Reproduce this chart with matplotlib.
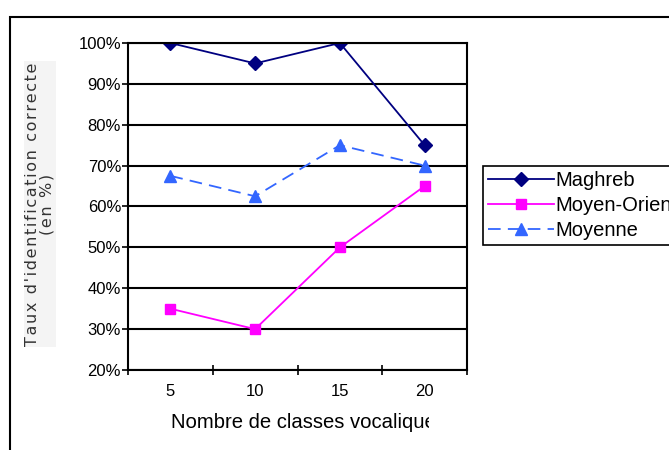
import matplotlib
matplotlib.use("Agg")
from matplotlib import pyplot as plt
from matplotlib.patches import Rectangle
from matplotlib.transforms import Bbox

# data
classes = ["5", "10", "15", "20"]
maghreb = [100, 95, 100, 75]
moyen_orient = [35, 30, 50, 65]
moyenne = [67.5, 62.5, 75, 70]
yticks = [20, 30, 40, 50, 60, 70, 80, 90, 100]

W, H = 669, 450
plt.rcParams['font.family'] = ['Liberation Sans', 'DejaVu Sans']

fig = plt.figure(figsize=(W / 100, H / 100), dpi=100)
ax = fig.add_axes([128 / W, 1 - 370 / H, (467 - 128) / W, (370 - 43) / H])

# outer chart border (cut off right and bottom)
fig.patches.append(Rectangle((10 / W, -0.1), 1.2, 1 - 17 / H + 0.1, transform=fig.transFigure,
                             fill=False, edgecolor='black', linewidth=1.5))

x = range(len(classes))
ax.plot(x, maghreb, color='#000080', marker='D', markersize=7, linewidth=1.3, label='Maghreb')
ax.plot(x, moyen_orient, color='#FF00FF', marker='s', markersize=7, linewidth=1.3, label='Moyen-Orient')
ax.plot(x, moyenne, color='#3366FF', marker='^', markersize=8.5, linewidth=1.3,
        linestyle=(0, (7, 4)), label='Moyenne')

ax.set_xlim(-0.5, 3.5)
ax.set_ylim(20, 100)
ax.set_yticks(yticks)
ax.set_yticklabels(["%d%%" % v for v in yticks], fontsize=12)
for v in yticks:
    ax.axhline(v, color='black', linewidth=1.5, zorder=0)

ax.set_xticks([-0.5, 0.5, 1.5, 2.5, 3.5])
ax.set_xticklabels([])
ax.set_xticks(list(x), minor=True)
ax.set_xticklabels(classes, minor=True, fontsize=12)
ax.tick_params(axis='x', which='major', direction='inout', length=7, width=1.2)
ax.tick_params(axis='x', which='minor', length=0, pad=10)
ax.tick_params(axis='y', direction='out', length=4, width=1.2, pad=1)
for s in ax.spines.values():
    s.set_linewidth(1.5)

# x title, cut off on the right like in the original
xl = fig.text(171 / W, 1 - 423 / H, "Nombre de classes vocaliques", ha='left', va='center',
              fontsize=14.6)
xl.set_clip_box(Bbox([[0, 0], [429, H]]))
xl.set_clip_on(True)

hair = "\u200a"
yl1 = hair.join("Taux d'identification correcte")
yl2 = hair.join("(en %)")
fig.text(40 / W, 1 - 204 / H, yl1 + "\n" + yl2, rotation=90, ha='center', va='center',
         fontsize=11.5, family=['DejaVu Sans'], color='#333333', linespacing=1.0,
         bbox=dict(facecolor='#f4f4f4', edgecolor='none', pad=1))

leg = ax.legend(loc='upper left', bbox_to_anchor=(483 / W, 1 - 166 / H),
                bbox_transform=fig.transFigure, borderaxespad=0, fancybox=False,
                edgecolor='black', framealpha=1, fontsize=14.5, handlelength=3.3,
                handletextpad=0.05, labelspacing=0.3, borderpad=0.25)
leg.get_frame().set_linewidth(1.2)

fig.savefig("out.png", dpi=100)
